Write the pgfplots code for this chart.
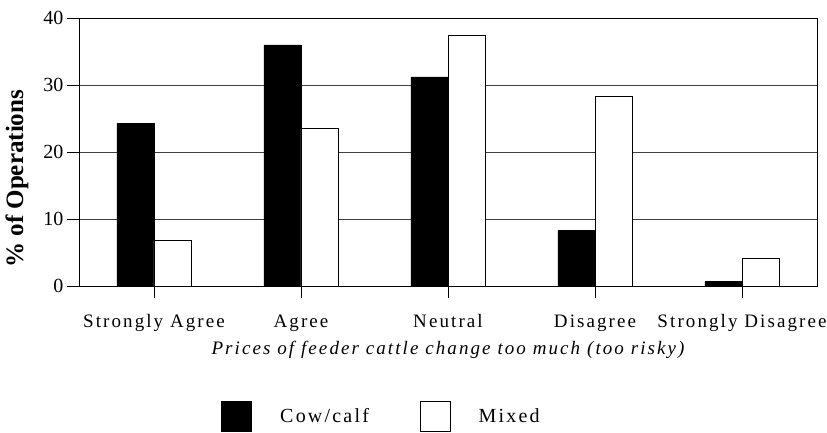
\documentclass[border=0pt]{standalone}
\usepackage{fontspec}
\setmainfont{Liberation Serif}
\newfontfamily\lsfont[LetterSpace=11]{Liberation Serif}
\usepackage{pgfplots}
\pgfplotsset{compat=1.18}
\usetikzlibrary{calc}
\begin{document}
\begin{tikzpicture}
\begin{axis}[
  name=a,
  width=738pt, height=268pt, scale only axis,
  xmin=-0.51, xmax=4.51, ymin=0, ymax=40,
  ytick={0,10,20,30,40}, xtick={0,1,2,3,4},
  xticklabels={Strongly Agree, Agree, Neutral, Disagree, Strongly Disagree},
  xtick pos=lower, ytick pos=left,
  tick align=outside, major tick length=12pt,
  every tick/.style={black, line width=0.8pt},
  axis line style={line width=0.8pt},
  ymajorgrids, grid style={line width=0.8pt, black!75},
  /pgf/number format/assume math mode=true,
  yticklabel style={font=\fontsize{20}{24}\selectfont},
  xticklabel style={font=\lsfont\fontsize{19}{23}\selectfont, yshift=-13pt},
  ybar=0pt, bar width=0.252,
  xlabel={Prices of feeder cattle change too much (too risky)},
  xlabel style={font=\lsfont\itshape\fontsize{19}{23}\selectfont, at={(axis description cs:0.5,-0.239)}, anchor=center},
  ylabel={\% of Operations},
  ylabel style={font=\bfseries\fontsize{25}{29}\selectfont, at={(axis description cs:-0.084,0.40)}, anchor=center, rotate=0},
  legend style={at={(axis description cs:0.41,-0.485)}, anchor=center, draw=none, font=\lsfont\fontsize{20}{24}\selectfont, legend columns=2,
    /tikz/every odd column/.append style={column sep=26pt},
    /tikz/every even column/.append style={column sep=49pt}},
  legend image code/.code={\draw[#1, line width=0.8pt] (0pt,-15pt) rectangle (30pt,15pt);},
]
\addplot[fill=black, draw=black] coordinates {(0,24.3) (1,36.0) (2,31.2) (3,8.3) (4,0.7)};
\addplot[fill=white, draw=black] coordinates {(0,6.8) (1,23.5) (2,37.4) (3,28.4) (4,4.2)};
\legend{Cow/calf, Mixed}
\end{axis}
\pgfresetboundingbox
\path[use as bounding box] ($(a.south west)+(-79pt,-147pt)$) rectangle ($(a.north east)+(10pt,18pt)$);
\end{tikzpicture}
\end{document}
